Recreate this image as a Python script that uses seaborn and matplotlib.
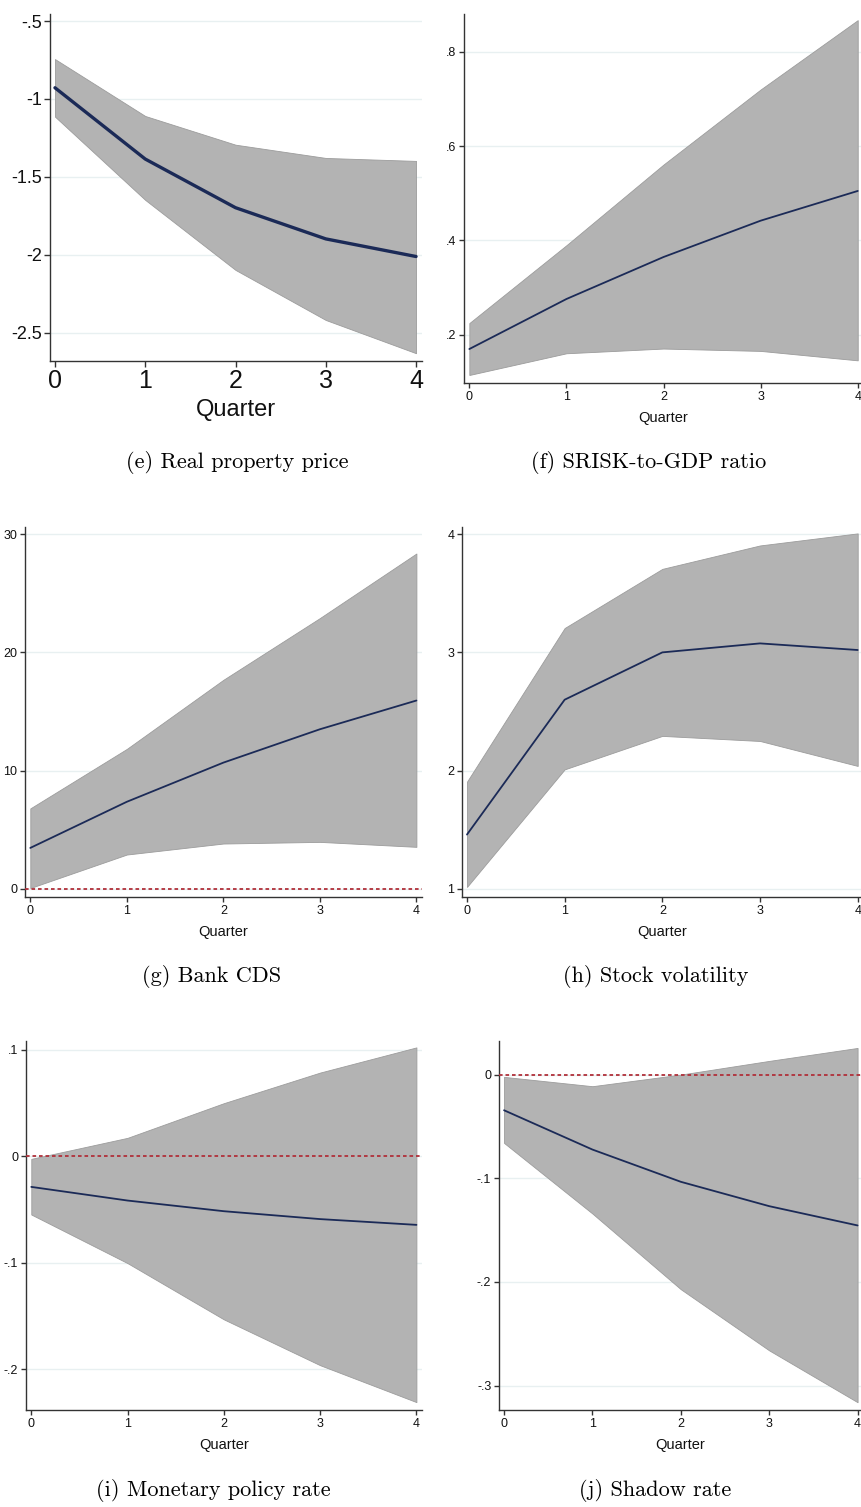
import numpy as np
import pandas as pd
import matplotlib
matplotlib.use("Agg")
import matplotlib.pyplot as plt
import seaborn as sns

quarters = [0, 1, 2, 3, 4]

# (e) Real property price
e_mean = [-0.928, -1.385, -1.697, -1.897, -2.01]
e_upper = [-0.744, -1.109, -1.293, -1.378, -1.397]
e_lower = [-1.113, -1.647, -2.096, -2.417, -2.63]

# (f) SRISK-to-GDP ratio
f_mean = [0.170, 0.276, 0.365, 0.442, 0.505]
f_upper = [0.225, 0.390, 0.561, 0.720, 0.867]
f_lower = [0.115, 0.161, 0.171, 0.166, 0.146]

# (g) Bank CDS
g_mean = [3.47, 7.37, 10.68, 13.5, 15.93]
g_upper = [6.81, 11.84, 17.68, 22.9, 28.36]
g_lower = [0.08, 2.91, 3.84, 3.98, 3.56]

# (h) Stock volatility
h_mean = [1.46, 2.60, 3.00, 3.076, 3.02]
h_upper = [1.907, 3.206, 3.706, 3.904, 4.006]
h_lower = [1.017, 2.011, 2.294, 2.251, 2.04]

# (i) Monetary policy rate
i_mean = [-0.0288, -0.0416, -0.0516, -0.059, -0.0644]
i_upper = [-0.0025, 0.0172, 0.0497, 0.0784, 0.102]
i_lower = [-0.0547, -0.1003, -0.153, -0.196, -0.2306]

# (j) Shadow rate
j_mean = [-0.0344, -0.0723, -0.1034, -0.1269, -0.1455]
j_upper = [-0.0022, -0.0112, 0.0, 0.0132, 0.0257]
j_lower = [-0.0659, -0.134, -0.207, -0.266, -0.316]

captions = ["(e) Real property price", "(f) SRISK-to-GDP ratio",
            "(g) Bank CDS", "(h) Stock volatility",
            "(i) Monetary policy rate", "(j) Shadow rate"]

e_yticks = [-2.5, -2, -1.5, -1, -0.5]
e_ylabels = ["-2.5", "-2", "-1.5", "-1", "-.5"]
f_yticks = [0.2, 0.4, 0.6, 0.8]
f_ylabels = [".2", ".4", ".6", ".8"]
g_yticks = [0, 10, 20, 30]
g_ylabels = ["0", "10", "20", "30"]
h_yticks = [1, 2, 3, 4]
h_ylabels = ["1", "2", "3", "4"]
i_yticks = [-0.2, -0.1, 0, 0.1]
i_ylabels = ["-.2", "-.1", "0", ".1"]
j_yticks = [-0.3, -0.2, -0.1, 0]
j_ylabels = ["-.3", "-.2", "-.1", "0"]

sns.set_theme(style="white")
plt.rcParams['font.family'] = ['Liberation Sans', 'DejaVu Sans']

W, H = 862, 1507
fig = plt.figure(figsize=(W / 100, H / 100), dpi=100)

def add_ax(left, top, right, bottom):
    return fig.add_axes([left / W, 1 - bottom / H, (right - left) / W, (bottom - top) / H])

NAVY = "#1b2a57"
BAND = "#b3b3b3"
BAND_EDGE = "#9c9c9c"
GRID = "#e8f0f1"
RED = "#b0303a"

panels = [
    dict(box=(50, 14, 422, 361), xlim=(-0.055, 4.066), ylim=(-2.68, -0.455),
         mean=e_mean, up=e_upper, lo=e_lower, yt=e_yticks, yl=e_ylabels,
         zero=False, big=True),
    dict(box=(464, 14, 862, 383), xlim=(-0.055, 4.044), ylim=(0.098, 0.88),
         mean=f_mean, up=f_upper, lo=f_lower, yt=f_yticks, yl=f_ylabels,
         zero=False, big=False),
    dict(box=(25, 527, 422, 897), xlim=(-0.055, 4.058), ylim=(-0.68, 30.6),
         mean=g_mean, up=g_upper, lo=g_lower, yt=g_yticks, yl=g_ylabels,
         zero=True, big=False),
    dict(box=(462, 527, 862, 897), xlim=(-0.051, 4.044), ylim=(0.932, 4.06),
         mean=h_mean, up=h_upper, lo=h_lower, yt=h_yticks, yl=h_ylabels,
         zero=False, big=False),
    dict(box=(26, 1041, 422, 1410), xlim=(-0.055, 4.058), ylim=(-0.238, 0.108),
         mean=i_mean, up=i_upper, lo=i_lower, yt=i_yticks, yl=i_ylabels,
         zero=True, big=False),
    dict(box=(499, 1041, 862, 1410), xlim=(-0.057, 4.05), ylim=(-0.3235, 0.0324),
         mean=j_mean, up=j_upper, lo=j_lower, yt=j_yticks, yl=j_ylabels,
         zero=True, big=False),
]

caption_pos = [(237, 463), (649, 463), (212, 977), (656, 977), (213, 1491), (655, 1491)]

for p, cap, cpos in zip(panels, captions, caption_pos):
    ax = add_ax(*p["box"])
    ax.set_facecolor("white")
    for yv in p["yt"]:
        ax.axhline(yv, color=GRID, lw=1.0, zorder=0)
    ax.fill_between(quarters, p["lo"], p["up"], color=BAND, edgecolor=BAND_EDGE,
                    linewidth=0.6, zorder=1)
    sns.lineplot(x=quarters, y=p["mean"], ax=ax, color=NAVY,
                 lw=2.4 if p["big"] else 1.3, zorder=3)
    if p["zero"]:
        ax.axhline(0, color=RED, lw=1.3, ls=(0, (2.0, 1.6)), zorder=4)
    ax.set_xlim(*p["xlim"])
    ax.set_ylim(*p["ylim"])
    ax.set_xticks(quarters)
    ax.set_xticklabels([str(q) for q in quarters])
    ax.set_yticks(p["yt"])
    ax.set_yticklabels(p["yl"])
    for s in ["top", "right"]:
        ax.spines[s].set_visible(False)
    for s in ["left", "bottom"]:
        ax.spines[s].set_color("#333333")
        ax.spines[s].set_linewidth(1.0)
    if p["big"]:
        ax.tick_params(axis="y", labelsize=13, length=4, width=1, color="#333333",
                       labelcolor="#111111", pad=2, direction="out", left=True)
        ax.tick_params(axis="x", labelsize=18, length=4, width=1, color="#333333",
                       labelcolor="#111111", pad=2, direction="out", bottom=True)
        ax.set_xlabel("Quarter", fontsize=17, labelpad=4, color="#111111")
    else:
        ax.tick_params(axis="both", labelsize=9, length=3.5, width=1, color="#333333",
                       labelcolor="#111111", pad=2, direction="out", left=True, bottom=True)
        ax.set_xlabel("Quarter", fontsize=10.5, labelpad=6, color="#111111")
    ax.set_ylabel("")
    ax.grid(False)
    fig.text(cpos[0] / W, 1 - cpos[1] / H, cap, ha="center", va="center",
             fontsize=16, family="cmr10", color="#000000")

fig.savefig("out.png", dpi=100, facecolor="white")
